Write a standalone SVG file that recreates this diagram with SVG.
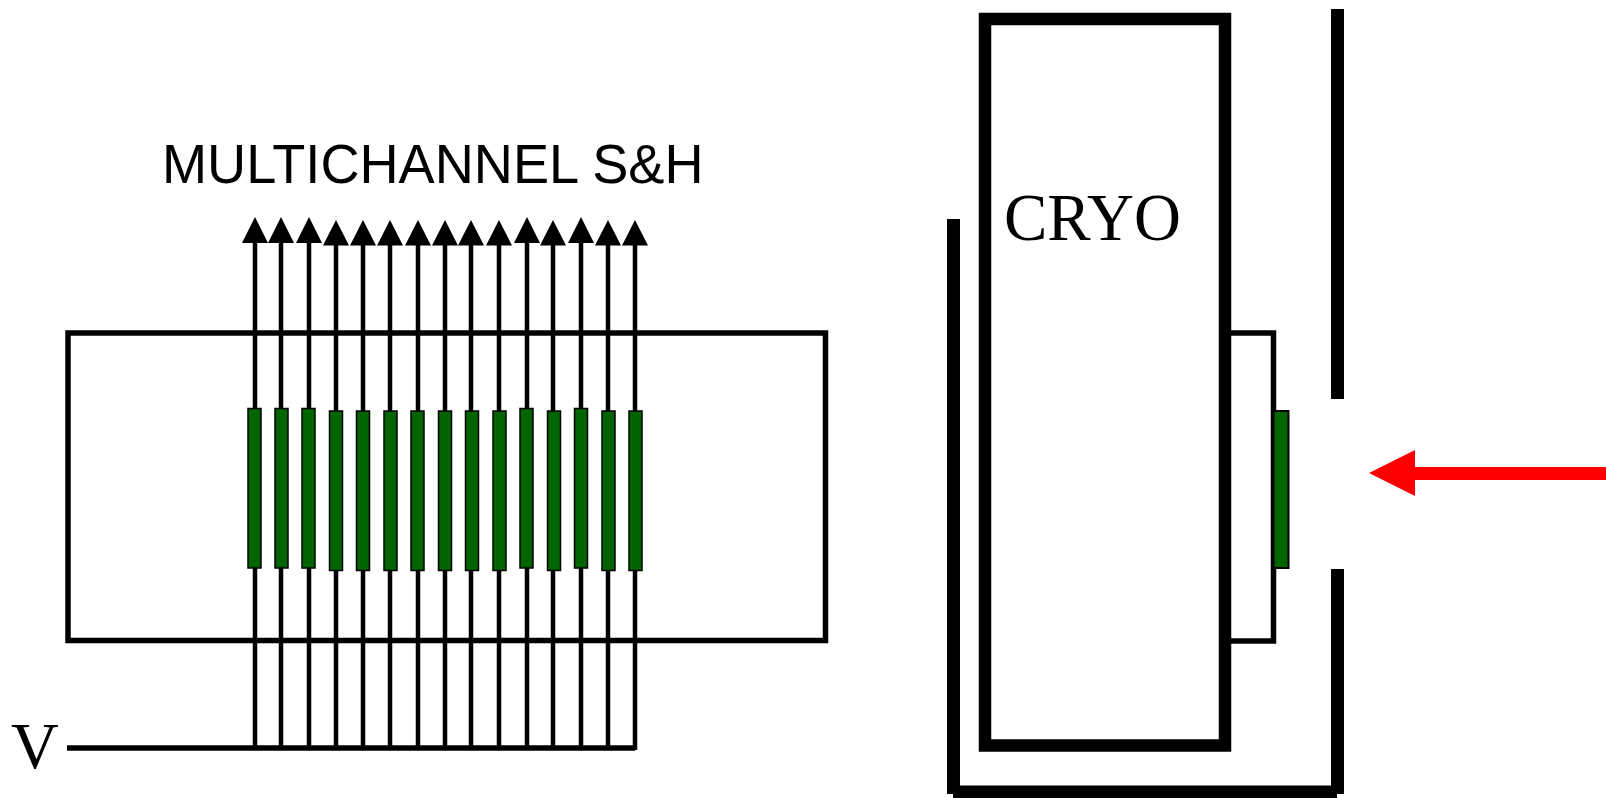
<svg xmlns="http://www.w3.org/2000/svg" width="1606" height="798" viewBox="0 0 1606 798">
<style>
.w{stroke:#000;stroke-width:4.500;fill:none}
.box{stroke:#000;stroke-width:5.500;fill:none}
.heavy{stroke:#000;stroke-width:13;fill:none}
.bar{fill:#006400;stroke:#000;stroke-width:1.500}
.head{fill:#000}
</style>
<rect width="1606" height="798" fill="#fff"/>
<g id="sh-box"><rect class="box" x="68" y="333" width="757.500" height="307.500"/></g>
<g id="connectors">
<path class="w" d="M255 243V748M281 243V748M309 243V748M336 245V748M363 245V748M390 245V748M418 245V748M445 245V748M471 245V748M499 245V748M527 243V748M553 245V748M581 243V748M608 245V748M635 245V750"/>
<path d="M67 748H635" stroke="#000" stroke-width="5.500" fill="none"/>
<path class="head" d="M255 217L242 243H268ZM281 217L268 243H294ZM309 217L296 243H322ZM336 220L323 245.500H349ZM363 220L350 245.500H376ZM390 220L377 245.500H403ZM418 220L405 245.500H431ZM445 220L432 245.500H458ZM471 220L458 245.500H484ZM499 220L486 245.500H512ZM527 217L514 243H540ZM553 220L540 245.500H566ZM581 217L568 243H594ZM608 220L595 245.500H621ZM635 220L622 245.500H648Z"/>
<path d="M1606 473.500H1410" stroke="#f00" stroke-width="13" fill="none"/>
<path d="M1369 473L1415 450V496Z" fill="#f00"/>
</g>
<g id="sensors">
<rect class="bar" x="248" y="408.500" width="13" height="159.500"/>
<rect class="bar" x="275" y="408.500" width="13" height="159.500"/>
<rect class="bar" x="302" y="408.500" width="13" height="159.500"/>
<rect class="bar" x="329.500" y="411" width="13" height="159.500"/>
<rect class="bar" x="356.500" y="411" width="13" height="159.500"/>
<rect class="bar" x="384" y="411" width="13" height="159.500"/>
<rect class="bar" x="411" y="411" width="13" height="159.500"/>
<rect class="bar" x="438.500" y="411" width="13" height="159.500"/>
<rect class="bar" x="465.500" y="411" width="13" height="159.500"/>
<rect class="bar" x="493" y="411" width="13" height="159.500"/>
<rect class="bar" x="520" y="408.500" width="13" height="159.500"/>
<rect class="bar" x="547.500" y="411" width="13" height="159.500"/>
<rect class="bar" x="574.500" y="408.500" width="13" height="159.500"/>
<rect class="bar" x="602" y="411" width="13" height="159.500"/>
<rect class="bar" x="629" y="411" width="13" height="159.500"/>
</g>
<g id="cryo"><rect x="985" y="19" width="240" height="726.500" stroke="#000" stroke-width="12.500" fill="none"/></g>
<g id="shield"><path class="heavy" d="M953.500 219V794M953 792H1337M1337.500 794V569M1337.500 399V9"/></g>
<g id="detector">
<path class="box" d="M1231 333H1273.500V641H1231"/>
<rect x="1273.500" y="411" width="15" height="157" fill="#006400" stroke="#000" stroke-width="2"/>
</g>
<g id="labels">
<text x="162" y="183" font-family="'Liberation Sans',Arial,sans-serif" font-size="56" textLength="541.500" lengthAdjust="spacingAndGlyphs">MULTICHANNEL S&amp;H</text>
<text x="1004" y="240" font-family="'Liberation Serif','Times New Roman',serif" font-size="67" textLength="177" lengthAdjust="spacingAndGlyphs">CRYO</text>
<text x="11" y="768" font-family="'Liberation Serif','Times New Roman',serif" font-size="66">V</text>
</g>
</svg>
